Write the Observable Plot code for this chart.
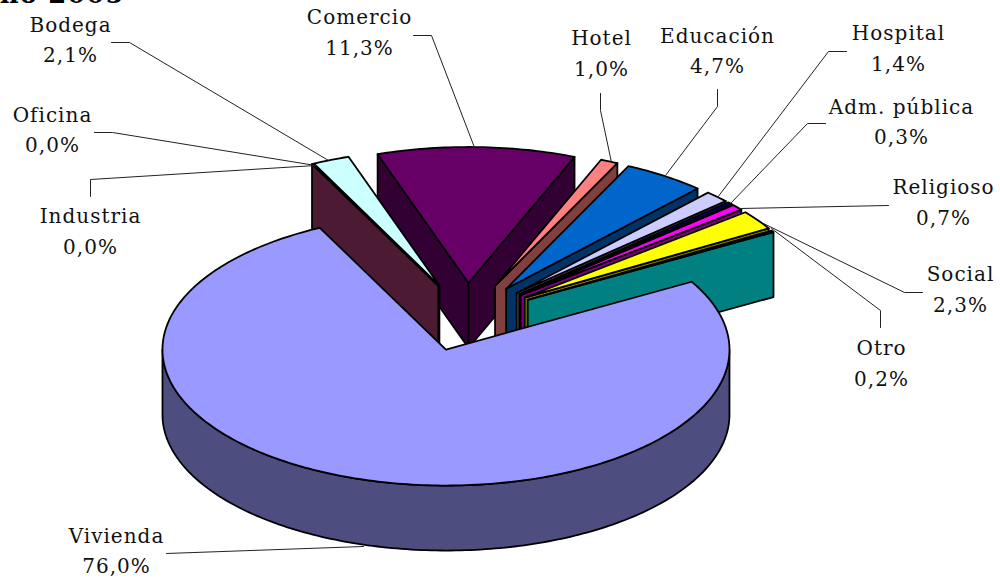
<!DOCTYPE html>
<html lang="es">
<head>
<meta charset="utf-8">
<style>html,body{margin:0;padding:0;background:#fff}</style>
<script src="https://cdn.jsdelivr.net/npm/d3@7"></script>
<script src="https://cdn.jsdelivr.net/npm/@observablehq/plot@0.6"></script>
</head>
<body>
<div id="chart"></div>
<script>
// Data, in pie order (clockwise)
const categories = ["Vivienda","Industria","Oficina","Bodega","Comercio","Hotel","Educación","Hospital","Adm. pública","Religioso","Social","Otro"];
const values     = [76.0, 0.03, 0.02, 2.1, 11.3, 1.0, 4.7, 1.4, 0.3, 0.7, 2.3, 0.2];
const valueLabels = ["76,0%","0,0%","0,0%","2,1%","11,3%","1,0%","4,7%","1,4%","0,3%","0,7%","2,3%","0,2%"];
const topColors  = ["#9999FF","#993366","#FFFFCC","#CCFFFF","#660066","#FF8080","#0066CC","#CCCCFF","#000080","#FF00FF","#FFFF00","#00FFFF"];
const sideColors = ["#4D4D80","#4D1A33","#808066","#668080","#330033","#804040","#003366","#666680","#000040","#800080","#808000","#008080"];
const drawOrder  = ["Comercio","Bodega","Oficina","Industria","Hotel","Educación","Hospital","Adm. pública","Religioso","Social","Otro","Vivienda"];

// Pie geometry
const startAngle = 60.1, cx = 466, cy = 316.5, rx = 283.5, ry = 136, depth = 65, explode = 0.25;
const rad = d => d * Math.PI / 180;

// Label layout: [centre x, name y, value y] and leader-line vertices
const labelPos = {
  "Vivienda":[116,536,566], "Industria":[90,216,247], "Oficina":[52,115,145], "Bodega":[70,25,55],
  "Comercio":[359,17,48], "Hotel":[601,38,69], "Educación":[717,36,66], "Hospital":[898,33,64],
  "Adm. pública":[901,107,137], "Religioso":[943,187,218], "Social":[960,274,305], "Otro":[881,348,379]
};
const leaders = {
  "Vivienda":[[166,553],[363,546]],
  "Industria":[[90,196],[90,179],[315,165]],
  "Oficina":[[94,132],[112,132],[315,165]],
  "Bodega":[[111,42],[129,42],[328,160]],
  "Comercio":[[413,35],[431,35],[474,147]],
  "Hotel":[[600,93],[600,110],[611,162]],
  "Educación":[[717,89],[717,106],[665,175]],
  "Hospital":[[846,51],[828,51],[717,197]],
  "Adm. pública":[[825,123],[807,123],[730,203]],
  "Religioso":[[888,205],[740,208]],
  "Social":[[922,292],[904,292],[763,223]],
  "Otro":[[880,327],[880,310],[771,228]]
};

// Angles from values
const total = d3.sum(values);
let acc = startAngle;
const slices = categories.map((name, i) => {
  const s = acc, e = acc + values[i] / total * 360;
  acc = e;
  return {name, i, s, e, mid: (s + e) / 2};
});
slices.forEach((d, i) => {
  let k = i;
  while (values[k] < 0.05) k++;          // slices that round to 0,0% travel near their neighbour
  const m = k === i ? d.mid : d.mid * 0.25 + slices[k].mid * 0.75;
  d.ox = cx + explode * rx * Math.sin(rad(m));
  d.oy = cy - explode * ry * Math.cos(rad(m));
});
const rim = (d, a, z = 0) => [d.ox + rx * Math.sin(rad(a)), d.oy - ry * Math.cos(rad(a)) + z];
const arc = (d, a0, a1) => {
  const n = Math.max(1, Math.ceil(Math.abs(a1 - a0)));
  return d3.range(n + 1).map(j => a0 + (a1 - a0) * j / n);
};

// Polygons
const polys = [];
let pid = 0;
const add = (pts, fill) => { const id = pid++; pts.forEach(([x, y]) => polys.push({id, x, y, fill})); };
for (const name of drawOrder) {
  const d = slices[categories.indexOf(name)];
  const top = topColors[d.i], side = sideColors[d.i];
  const apex = [d.ox, d.oy], apexB = [d.ox, d.oy + depth];
  if (Math.sin(rad(d.s)) < 0) add([apex, rim(d, d.s), rim(d, d.s, depth), apexB], side);
  if (Math.sin(rad(d.e)) > 0) add([apex, rim(d, d.e), rim(d, d.e, depth), apexB], side);
  const a0 = Math.max(d.s, 90), a1 = Math.min(d.e, 270);
  if (a1 > a0) {
    const as = arc(d, a0, a1);
    add([...as.map(a => rim(d, a)), ...as.slice().reverse().map(a => rim(d, a, depth))], side);
  }
  add([apex, ...arc(d, d.s, d.e).map(a => rim(d, a))], top);
}

const leaderRows = Object.entries(leaders).flatMap(([name, pts]) => pts.map(([x, y]) => ({name, x, y})));
const labelRows = categories.flatMap((name, i) => {
  const [x, y1, y2] = labelPos[name];
  return [{x, y: y1, t: name}, {x, y: y2, t: valueLabels[i]}];
});

const plot = Plot.plot({
  width: 1000, height: 580, margin: 0,
  x: {domain: [0, 1000], range: [0, 1000], axis: null},
  y: {domain: [0, 580], range: [0, 580], axis: null},
  style: {background: "#fff", letterSpacing: "1px"},
  marks: [
    Plot.line(polys, {x: "x", y: "y", z: "id", fill: "fill", stroke: "#000", strokeWidth: 1.8, curve: "linear-closed", strokeLinejoin: "round"}),
    Plot.line(leaderRows, {x: "x", y: "y", z: "name", stroke: "#222", strokeWidth: 1}),
    Plot.text(labelRows, {x: "x", y: "y", text: "t", fontFamily: "DejaVu Serif", fontSize: 20, fill: "#111", lineAnchor: "middle"}),
    Plot.rect([0], {x1: [300], x2: [420], y1: [0], y2: [9], fill: "#fff"}),
    Plot.text(["año 2005"], {x: [124], y: [2], text: d => d, textAnchor: "end", lineAnchor: "bottom", fontFamily: "DejaVu Serif", fontWeight: "bold", fontSize: 26, fill: "#000"})
  ]
});
document.getElementById("chart").appendChild(plot);
</script>
</body>
</html>
